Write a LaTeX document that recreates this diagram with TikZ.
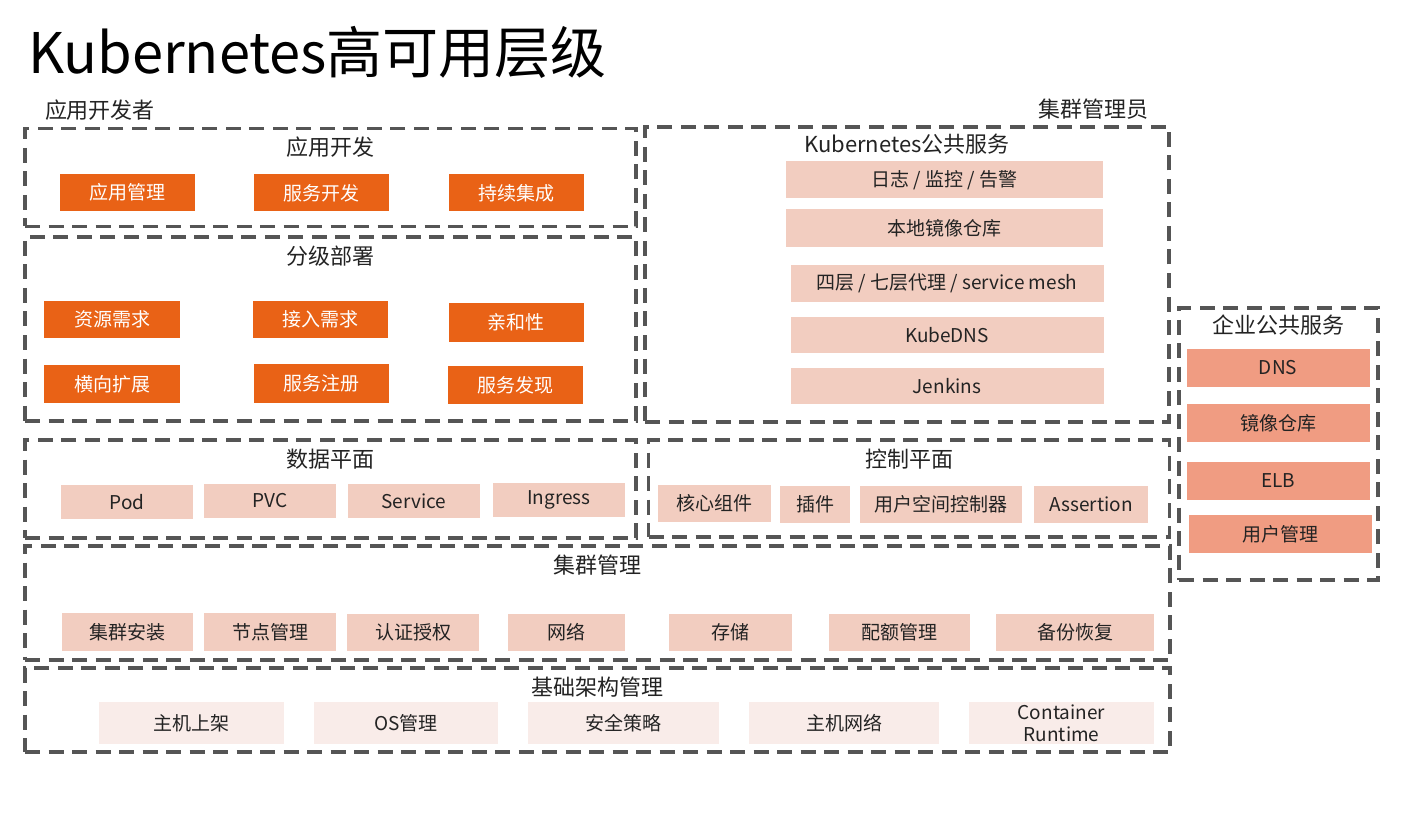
\documentclass[tikz,border=0pt]{standalone}
\usepackage{fontspec}
\setmainfont{Noto Sans CJK SC}
\usepackage{tikz}
\usetikzlibrary{positioning}
\definecolor{devorange}{RGB}{233,98,22}
\definecolor{k8spink}{RGB}{242,205,192}
\definecolor{entsalmon}{RGB}{240,156,130}
\definecolor{basepink}{RGB}{249,236,233}
\definecolor{framegray}{RGB}{85,85,85}
\definecolor{textdark}{RGB}{35,35,35}

\begin{document}
\begin{tikzpicture}[x=1pt, y=-1pt,
  dashframe/.style={draw=framegray, line width=3.4pt, dash pattern=on 15pt off 8.5pt, inner sep=0pt},
  frametitle/.style={font=\fontsize{22}{26}\selectfont, inner sep=0pt, text=textdark},
  item/.style={inner sep=0pt, text=textdark, font=\fontsize{19}{23}\selectfont, minimum height=37pt},
  devitem/.style={item, fill=devorange, text=white, minimum width=135pt},
  k8sitem/.style={item, fill=k8spink},
  entitem/.style={item, fill=entsalmon, minimum width=183pt},
  baseitem/.style={item, fill=basepink, minimum height=42pt}]

  \useasboundingbox (0,0) rectangle (1425,821);

  \node[anchor=west, inner sep=0pt, font=\fontsize{56}{60}\selectfont] (title) at (28,52) {Kubernetes高可用层级};
  \node[frametitle] (developer) at (100,110) {应用开发者};
  \node[frametitle] (admin) at (1093,109) {集群管理员};

  % frames
  \node[dashframe, minimum width=611pt, minimum height=98pt] (appframe) at (330.5,177.5) {};
  \node[dashframe, minimum width=611pt, minimum height=184pt] (deployframe) at (330.5,329) {};
  \node[dashframe, minimum width=524pt, minimum height=295pt] (k8sframe) at (907,274.5) {};
  \node[dashframe, minimum width=199pt, minimum height=272pt] (entframe) at (1278.5,444) {};
  \node[dashframe, minimum width=611pt, minimum height=98pt] (dataframe) at (330.5,489) {};
  \node[dashframe, minimum width=521pt, minimum height=97pt] (ctrlframe) at (909,488.5) {};
  \node[dashframe, minimum width=1145pt, minimum height=114pt] (clusterframe) at (597.5,603) {};
  \node[dashframe, minimum width=1145pt, minimum height=84pt] (baseframe) at (597.5,710) {};

  \node[frametitle, below=10pt of appframe.north] (apptitle) {应用开发};
  \node[frametitle, below=10pt of deployframe.north] (deploytitle) {分级部署};
  \node[frametitle, below=8pt of k8sframe.north] (k8stitle) {Kubernetes公共服务};
  \node[frametitle, below=8pt of entframe.north] (enttitle) {企业公共服务};
  \node[frametitle, below=10pt of dataframe.north] (datatitle) {数据平面};
  \node[frametitle, below=10pt of ctrlframe.north] (ctrltitle) {控制平面};
  \node[frametitle, below=10pt of clusterframe.north] (clustertitle) {集群管理};
  \node[frametitle, below=10pt of baseframe.north] (basetitle) {基础架构管理};

  % 应用开发 / 分级部署
  \node[devitem] (appmgmt) at (127,192.5) {应用管理};
  \node[devitem] (svcdev) at (321,193) {服务开发};
  \node[devitem] (ci) at (516,193) {持续集成};
  \node[devitem, minimum width=136pt] (resreq) at (112,319.5) {资源需求};
  \node[devitem] (accreq) at (320.5,319.5) {接入需求};
  \node[devitem, minimum height=39pt] (affinity) at (516,322.5) {亲和性};
  \node[devitem, minimum width=136pt, minimum height=38pt] (hscale) at (112,384) {横向扩展};
  \node[devitem, minimum height=39pt] (svcreg) at (321,383.5) {服务注册};
  \node[devitem, minimum height=38pt] (svcdisc) at (515.5,385) {服务发现};

  % Kubernetes公共服务
  \node[k8sitem, minimum width=317pt] (logmon) at (944.5,180) {日志 / 监控 / 告警};
  \node[k8sitem, minimum width=317pt, minimum height=38pt] (registry) at (944.5,228) {本地镜像仓库};
  \node[k8sitem, minimum width=313pt] (proxy) at (947,283.5) {四层 / 七层代理 / service mesh};
  \node[k8sitem, minimum width=313pt, minimum height=36pt] (kubedns) at (947,335) {KubeDNS};
  \node[k8sitem, minimum width=313pt, minimum height=36pt] (jenkins) at (947,386) {Jenkins};

  % 企业公共服务
  \node[entitem, minimum height=38pt] (dns) at (1278,368) {DNS};
  \node[entitem, minimum height=38pt] (entreg) at (1278,423) {镜像仓库};
  \node[entitem, minimum height=38pt] (elb) at (1278,481) {ELB};
  \node[entitem, minimum height=38pt] (usermgmt) at (1280,534) {用户管理};

  % 数据平面 / 控制平面
  \node[k8sitem, minimum width=132pt, minimum height=34pt] (pod) at (127,502) {Pod};
  \node[k8sitem, minimum width=132pt, minimum height=34pt] (pvc) at (270,501) {PVC};
  \node[k8sitem, minimum width=132pt, minimum height=34pt] (service) at (414,501) {Service};
  \node[k8sitem, minimum width=132pt, minimum height=34pt] (ingress) at (559,499.5) {Ingress};
  \node[k8sitem, minimum width=113pt] (core) at (714,503.5) {核心组件};
  \node[k8sitem, minimum width=70pt] (plugin) at (815,504.5) {插件};
  \node[k8sitem, minimum width=162pt] (userctl) at (941,504.5) {用户空间控制器};
  \node[k8sitem, minimum width=114pt] (assertion) at (1091,504) {Assertion};

  % 集群管理
  \node[k8sitem, minimum width=131pt, minimum height=38pt] (install) at (127.5,632) {集群安装};
  \node[k8sitem, minimum width=132pt, minimum height=38pt] (nodemgmt) at (270,632) {节点管理};
  \node[k8sitem, minimum width=132pt, minimum height=37pt] (auth) at (413,632) {认证授权};
  \node[k8sitem, minimum width=117pt, minimum height=37pt] (network) at (566.5,632) {网络};
  \node[k8sitem, minimum width=123pt, minimum height=37pt] (storage) at (730,632) {存储};
  \node[k8sitem, minimum width=141pt, minimum height=37pt] (quota) at (899.5,632) {配额管理};
  \node[k8sitem, minimum width=158pt, minimum height=37pt] (backup) at (1075,632) {备份恢复};

  % 基础架构管理
  \node[baseitem, minimum width=185pt] (rack) at (191.5,723) {主机上架};
  \node[baseitem, minimum width=184pt] (osmgmt) at (406,723) {OS管理};
  \node[baseitem, minimum width=191pt] (security) at (623.5,723) {安全策略};
  \node[baseitem, minimum width=190pt] (hostnet) at (844,723) {主机网络};
  \node[baseitem, minimum width=185pt, align=center, font=\fontsize{19}{22}\selectfont] (runtime) at (1061.5,723) {Container\\Runtime};
\end{tikzpicture}
\end{document}
